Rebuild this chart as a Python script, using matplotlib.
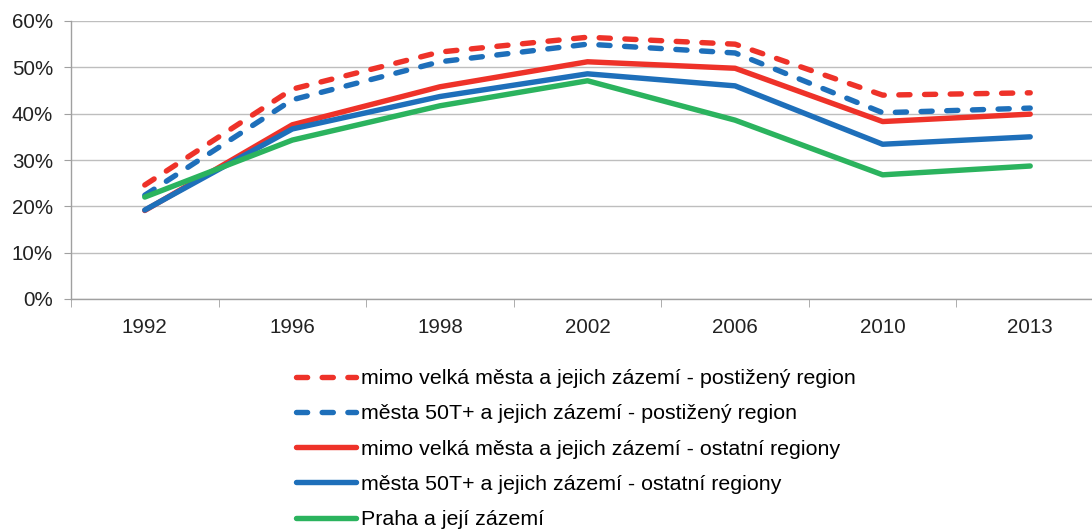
import matplotlib
matplotlib.use("Agg")
import matplotlib.pyplot as plt
import numpy as np
from matplotlib.ticker import FixedLocator, PercentFormatter

plt.rcParams['font.family'] = ['Liberation Sans', 'DejaVu Sans']
plt.rcParams['lines.scale_dashes'] = False

years = ['1992', '1996', '1998', '2002', '2006', '2010', '2013']
mimo_post = [24.6, 45.3, 53.3, 56.5, 55.0, 44.0, 44.5]
mesta_post = [22.4, 43.0, 51.2, 55.0, 53.1, 40.2, 41.2]
mimo_ost = [19.1, 37.6, 45.8, 51.2, 49.8, 38.3, 39.9]
mesta_ost = [19.2, 36.7, 43.7, 48.6, 46.0, 33.4, 35.0]
praha = [22.0, 34.3, 41.7, 47.1, 38.6, 26.8, 28.7]

labels = [
    'mimo velká města a jejich zázemí - postižený region',
    'města 50T+ a jejich zázemí - postižený region',
    'mimo velká města a jejich zázemí - ostatní regiony',
    'města 50T+ a jejich zázemí - ostatní regiony',
    'Praha a její zázemí',
]

RED = '#EE3229'
BLUE = '#1E6FBA'
GREEN = '#2BB35E'

fig = plt.figure(figsize=(10.92, 5.30), dpi=100)
W, H = 1092, 530
left, right, top, bottom = 71, 1104, 21, 299
ax = fig.add_axes([left / W, 1 - bottom / H, (right - left) / W, (bottom - top) / H])

x = np.arange(len(years))
lw = 3.9
series = [
    (mimo_post, RED, True),
    (mesta_post, BLUE, True),
    (mimo_ost, RED, False),
    (mesta_ost, BLUE, False),
    (praha, GREEN, False),
]
handles = []
for (vals, col, dashed), lab in zip(series, labels):
    if dashed:
        ln, = ax.plot(x, vals, color=col, lw=lw, dashes=(8, 10.5),
                      dash_capstyle='round', solid_capstyle='round', label=lab, zorder=3)
    else:
        ln, = ax.plot(x, vals, color=col, lw=lw, solid_capstyle='round',
                      solid_joinstyle='round', label=lab, zorder=3)
    handles.append(ln)

FS = 14.8
LFS = 15.4
ax.set_xlim(-0.5, len(years) - 0.5)
ax.set_ylim(0, 60)
ax.yaxis.set_major_locator(FixedLocator(np.arange(0, 61, 10)))
ax.yaxis.set_major_formatter(PercentFormatter(decimals=0))
ax.set_xticks(x)
ax.set_xticklabels(years)
ax.xaxis.set_minor_locator(FixedLocator(np.arange(-0.5, len(years), 1.0)))
ax.tick_params(axis='x', which='major', length=0, pad=14, labelsize=FS, colors='#222222')
ax.tick_params(axis='x', which='minor', length=6, color='#A0A0A0', direction='out')
ax.tick_params(axis='y', which='major', length=5, color='#A0A0A0', pad=8, labelsize=FS, labelcolor='#222222')

ax.grid(axis='y', color='#BEBEBE', lw=1.0, zorder=0)
for s in ['top', 'right']:
    ax.spines[s].set_visible(False)
for s in ['left', 'bottom']:
    ax.spines[s].set_color('#A0A0A0')
    ax.spines[s].set_linewidth(1.0)

fig.legend(handles=handles, labels=labels, loc='upper left',
           bbox_to_anchor=(296 / W, 1 - 369 / H), frameon=False,
           fontsize=LFS, handlelength=2.8, handletextpad=0.26,
           labelspacing=0.76, borderaxespad=0, borderpad=0)

fig.savefig('out.png', dpi=100)
